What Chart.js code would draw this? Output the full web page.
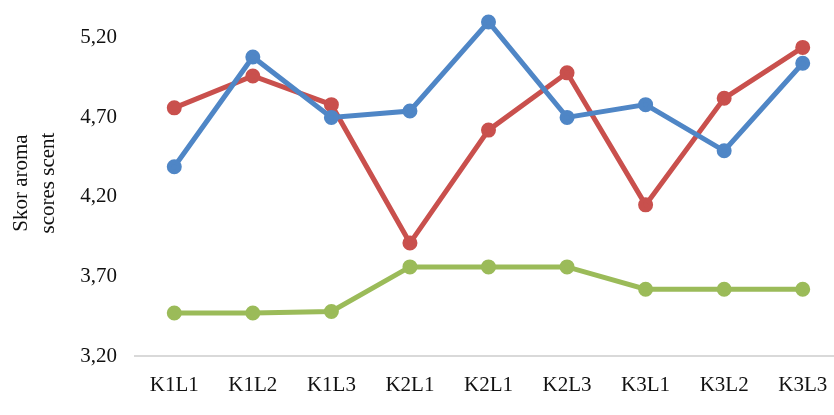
<!DOCTYPE html>
<html>
<head>
<meta charset="utf-8">
<script src="https://cdn.jsdelivr.net/npm/chart.js@4/dist/chart.umd.min.js"></script>
<style>
    html, body {margin: 0; padding: 0; background: #fff; overflow: hidden;}
    .chart-box {position: absolute; left: 0; top: 0; width: 852px; height: 415px;}
</style>
</head>
<body>
<div class="chart-box"><canvas id="aroma-chart"></canvas></div>
<script>
const categories = ['K1L1', 'K1L2', 'K1L3', 'K2L1', 'K2L1', 'K2L3', 'K3L1', 'K3L2', 'K3L3'];
const blueValues = [4.39, 5.08, 4.70, 4.74, 5.30, 4.70, 4.78, 4.49, 5.04];
const redValues = [4.76, 4.96, 4.78, 3.91, 4.62, 4.98, 4.15, 4.82, 5.14];
const greenValues = [3.47, 3.47, 3.48, 3.76, 3.76, 3.76, 3.62, 3.62, 3.62];
const yTicks = [3.20, 3.70, 4.20, 4.70, 5.20];

const serif = "'Liberation Serif', 'Times New Roman', serif";

function lineSet(values, color) {
    return {
        data: values,
        borderColor: color,
        backgroundColor: color,
        borderWidth: 5,
        pointRadius: 5,
        pointHoverRadius: 5,
        tension: 0,
        fill: false,
        clip: false
    };
}

const ctx = document.getElementById('aroma-chart').getContext('2d');
window.aromaChart = new Chart(ctx, {
    type: 'line',
    data: {
        labels: categories,
        datasets: [
            lineSet(blueValues, '#4f86c6'),
            lineSet(redValues, '#c9504d'),
            lineSet(greenValues, '#9bbb59')
        ]
    },
    options: {
        responsive: true,
        maintainAspectRatio: false,
        animation: false,
        layout: {
            padding: {top: 3, right: 2, bottom: 0, left: 0}
        },
        plugins: {
            legend: {
                display: false
            },
            tooltip: {
                enabled: false
            }
        },
        scales: {
            x: {
                offset: true,
                grid: {
                    display: false,
                    drawTicks: false
                },
                border: {
                    display: true,
                    color: '#d9d9d9',
                    width: 2
                },
                ticks: {
                    color: '#111',
                    padding: 17,
                    maxRotation: 0,
                    font: {family: serif, size: 21}
                },
                afterFit: function (scale) {
                    scale.height = 59;
                    scale.paddingLeft = 0;
                    scale.paddingRight = 0;
                }
            },
            y: {
                min: 3.2,
                max: 5.375,
                grid: {
                    display: false,
                    drawTicks: false
                },
                border: {
                    display: false
                },
                afterBuildTicks: function (scale) {
                    scale.ticks = yTicks.map(v => ({value: v}));
                },
                ticks: {
                    color: '#111',
                    padding: 18,
                    font: {family: serif, size: 21},
                    callback: function (value) {
                        return Number(value).toFixed(2).replace('.', ',');
                    }
                },
                title: {
                    display: true,
                    text: ['Skor aroma', 'scores scent'],
                    color: '#111',
                    padding: {top: 8, bottom: 0},
                    font: {family: serif, size: 21, lineHeight: 1.3}
                },
                afterFit: function (scale) {
                    scale.width = 135;
                    scale.paddingTop = 0;
                    scale.paddingBottom = 0;
                }
            }
        }
    }
});
</script>
</body>
</html>
